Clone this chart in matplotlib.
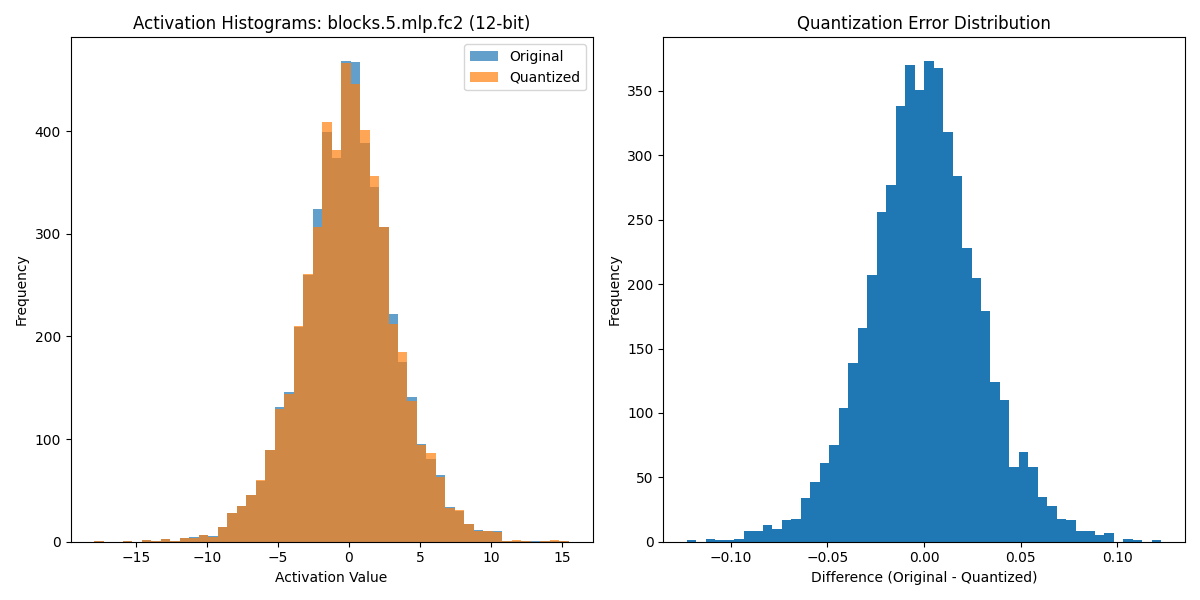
import numpy as np
import matplotlib
matplotlib.use('Agg')
import matplotlib.pyplot as plt

# bin range (50 bins each)
act_lo, act_hi = -17.92, 15.49
err_lo, err_hi = -0.1228, 0.1228

# activation counts per bin
orig_counts = [1, 0, 0, 1, 0, 2, 1, 3, 1, 4,
               5, 7, 6, 14, 28, 35, 46, 59, 89, 131,
               146, 209, 260, 324, 399, 374, 468, 467, 388, 346,
               307, 222, 175, 141, 95, 81, 65, 34, 30, 17,
               11, 10, 10, 1, 1, 1, 1, 1, 1, 1]
quant_counts = [1, 0, 0, 1, 0, 2, 1, 3, 1, 4,
                4, 7, 5, 14, 28, 35, 46, 60, 89, 129,
                144, 210, 261, 307, 409, 382, 466, 446, 401, 356,
                307, 212, 185, 137, 94, 86, 63, 33, 31, 17,
                10, 10, 9, 1, 2, 1, 0, 1, 2, 1]

# error counts per bin
err_counts = [1, 0, 2, 1, 1, 2, 8, 8, 13, 10,
              17, 18, 34, 46, 61, 75, 104, 139, 166, 207,
              256, 277, 338, 370, 351, 373, 368, 318, 284, 228,
              205, 179, 124, 110, 58, 70, 58, 35, 28, 18,
              17, 8, 8, 5, 7, 0, 2, 1, 0, 1]

act_edges = np.linspace(act_lo, act_hi, 51)
err_edges = np.linspace(err_lo, err_hi, 51)
act_mid = (act_edges[:-1] + act_edges[1:]) / 2
err_mid = (err_edges[:-1] + err_edges[1:]) / 2

fig, (ax1, ax2) = plt.subplots(1, 2, figsize=(12, 6), dpi=100)

ax1.hist(act_mid, bins=act_edges, weights=orig_counts, alpha=0.7, label='Original')
ax1.hist(act_mid, bins=act_edges, weights=quant_counts, alpha=0.7, label='Quantized')
ax1.set_title('Activation Histograms: blocks.5.mlp.fc2 (12-bit)')
ax1.set_xlabel('Activation Value')
ax1.set_ylabel('Frequency')
ax1.legend()

ax2.hist(err_mid, bins=err_edges, weights=err_counts)
ax2.set_title('Quantization Error Distribution')
ax2.set_xlabel('Difference (Original - Quantized)')
ax2.set_ylabel('Frequency')

plt.tight_layout()
plt.savefig('out.png')
